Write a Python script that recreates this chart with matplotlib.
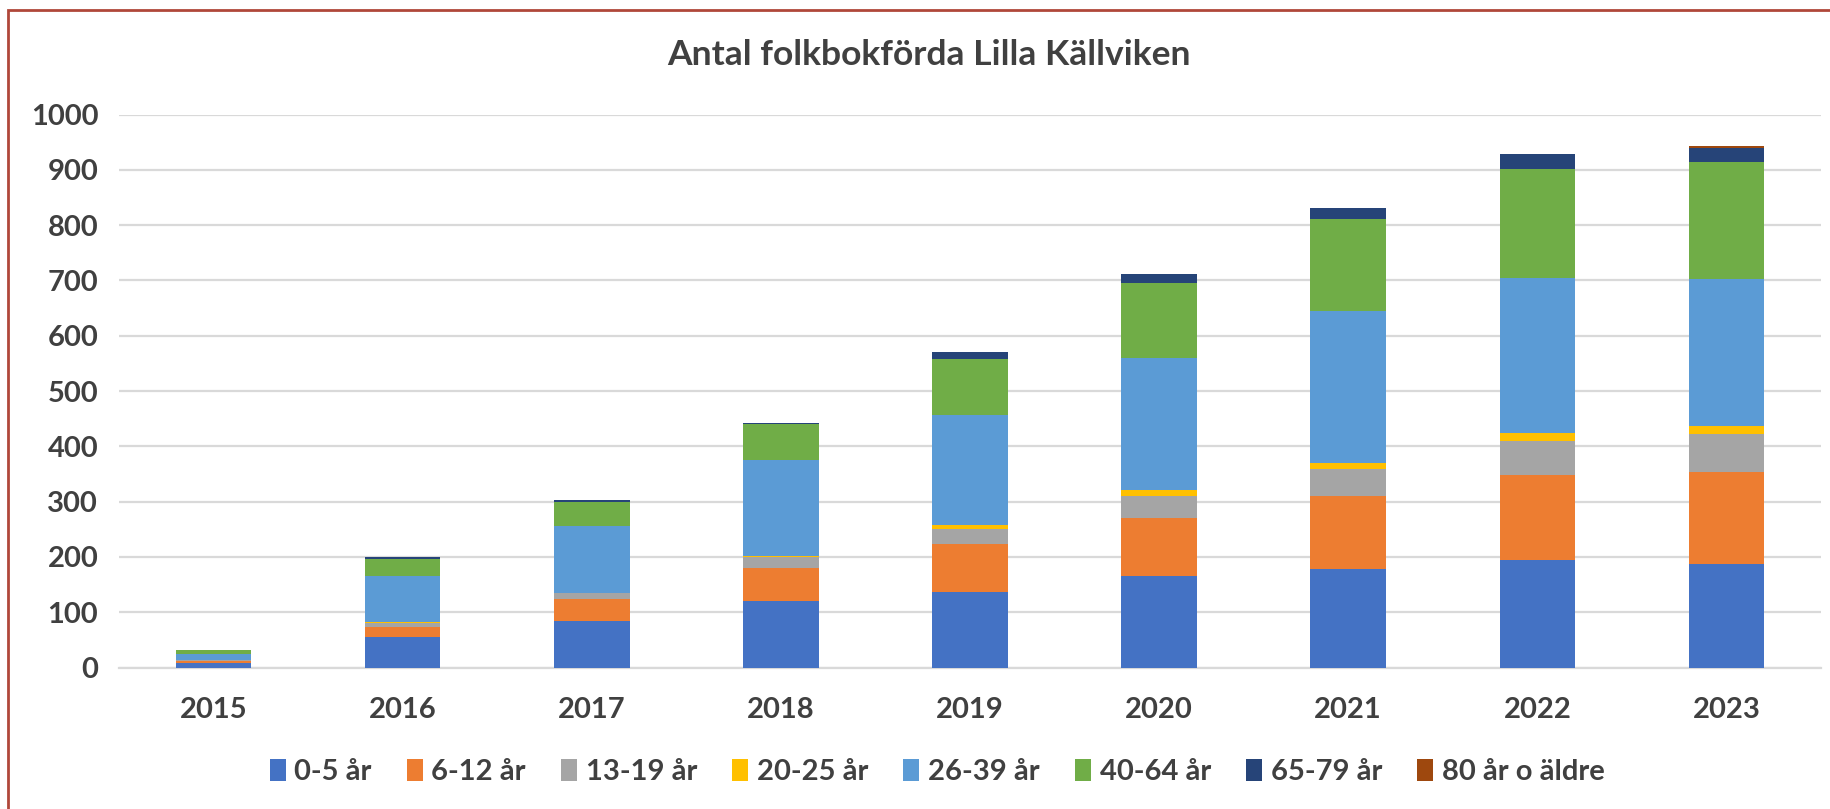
import numpy as np
import matplotlib
matplotlib.use("Agg")
import matplotlib.pyplot as plt
from matplotlib.patches import Patch, Rectangle

plt.rcParams['font.family'] = ['Lato', 'DejaVu Sans']

# Data
years = ['2015', '2016', '2017', '2018', '2019', '2020', '2021', '2022', '2023']
groups = ['0-5 år', '6-12 år', '13-19 år', '20-25 år', '26-39 år', '40-64 år', '65-79 år', '80 år o äldre']

age_0_5 = [8, 55, 84, 120, 137, 165, 178, 194, 188]
age_6_12 = [3, 18, 40, 60, 87, 106, 133, 155, 166]
age_13_19 = [2, 7, 10, 20, 26, 39, 48, 61, 69]
age_20_25 = [0, 3, 1, 2, 7, 11, 11, 14, 13]
age_26_39 = [12, 82, 121, 174, 199, 239, 274, 280, 266]
age_40_64 = [6, 31, 44, 64, 101, 136, 167, 198, 212]
age_65_79 = [0, 4, 3, 3, 13, 16, 20, 26, 26]
age_80 = [0, 0, 0, 0, 0, 0, 0, 0, 3]

colors = ['#4472C4', '#ED7D31', '#A5A5A5', '#FFC000', '#5B9BD5', '#70AD47', '#264478', '#9E480E']
series = [age_0_5, age_6_12, age_13_19, age_20_25, age_26_39, age_40_64, age_65_79, age_80]

text_col = '#404040'

fig = plt.figure(figsize=(18.31, 8.09), dpi=100)
ax = fig.add_axes([119 / 1831, 141.5 / 809, (1821 - 119) / 1831, 553 / 809])

x = np.arange(len(years))
bottom = np.zeros(len(years))
for vals, col, lab in zip(series, colors, groups):
    ax.bar(x, vals, width=0.4, bottom=bottom, color=col, label=lab, zorder=3)
    bottom += np.array(vals)

ax.set_xlim(-0.5, len(years) - 0.5)
ax.set_ylim(0, 1000)
ax.set_yticks(range(0, 1001, 100))
ax.set_xticks(x)
ax.set_xticklabels(years)
ax.grid(axis='y', color='#d9d9d9', linewidth=1.6, zorder=0)
for s in ['top', 'right', 'left']:
    ax.spines[s].set_visible(False)
ax.spines['bottom'].set_color('#d9d9d9')
ax.spines['bottom'].set_linewidth(1.6)
ax.tick_params(axis='both', length=0, labelsize=21, colors=text_col)
ax.tick_params(axis='y', pad=15)
ax.tick_params(axis='x', pad=21)
for t in ax.get_xticklabels() + ax.get_yticklabels():
    t.set_fontweight('bold')

fig.text(929 / 1831, 1 - 55 / 809, 'Antal folkbokförda Lilla Källviken', ha='center', va='center',
         fontsize=25.5, fontweight='bold', color=text_col)

handles = [Patch(facecolor=c, label=g) for c, g in zip(colors, groups)]
leg = fig.legend(handles=handles, loc='center', bbox_to_anchor=(937 / 1831, 1 - 772 / 809), ncol=8,
                 frameon=False, fontsize=21, handlelength=0.55, handleheight=0.75,
                 handletextpad=0.3, columnspacing=1.2)
for t in leg.get_texts():
    t.set_fontweight('bold')
    t.set_color(text_col)

# chart border (left and top visible)
fig.patches.append(Rectangle((8 / 1831, -0.1), 1.5, (809 - 10) / 809 + 0.1, transform=fig.transFigure,
                             fill=False, edgecolor='#B0473A', linewidth=2))

fig.savefig('out.png', dpi=100)
